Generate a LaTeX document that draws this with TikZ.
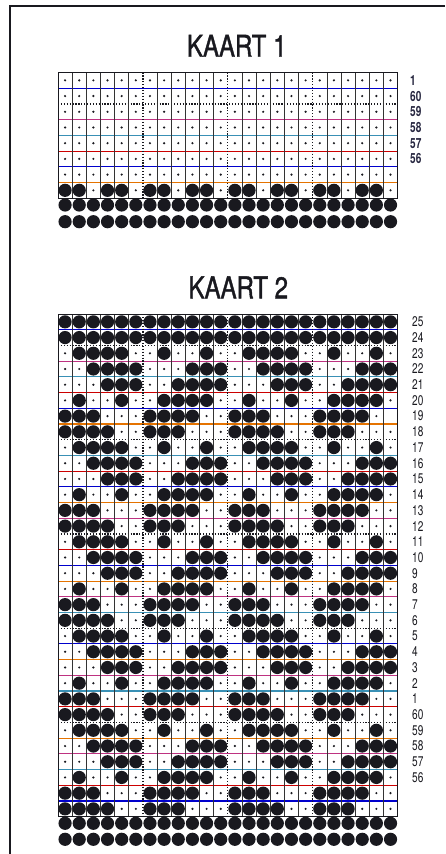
\documentclass[tikz,border=0pt]{standalone}
\usepackage{fontspec}
\setmainfont{TeX Gyre Heros}
\newfontfamily\titlef[FakeStretch=0.8, FakeBold=1.3]{TeX Gyre Heros}
\newfontfamily\labf[FakeStretch=0.72]{TeX Gyre Heros}
\definecolor{ink}{rgb}{0.1,0.1,0.12}
\definecolor{labink}{rgb}{0.15,0.15,0.25}
\newcommand\hcol[1]{\ifcase#1 red!80!black\or blue!80!black\or orange!90!black\or magenta!75!black\or cyan!70!black\fi}
\tikzset{
  vline/.style={black!80, line width=0.6pt},
  dotline/.style={ink, line width=1.3pt, dash pattern=on 1.2pt off 1.7pt},
  border/.style={ink, line width=0.9pt},
  hole/.style={fill=ink},
  pin/.style={fill=ink},
  hline/.style={line width=1.1pt},
  titlelab/.style={font=\titlef\fontsize{30}{30}\selectfont, text=ink, inner sep=0pt, anchor=base},
  rowlab/.style={font=\labf\fontsize{14}{14}\selectfont, inner sep=0pt, anchor=west}
}
\def\gx{58}\def\cw{14.15}\def\rh{15.71}
\def\ta{72.5}\def\tb{314}
\begin{document}
\begin{tikzpicture}[x=1pt,y=-1pt]
\useasboundingbox (0,0) rectangle (445,854);
\fill[white] (0,0) rectangle (445,854);
% frame
\draw[ink, line width=2pt] (10,854) -- (10,6) -- (445,6);

% ---------- KAART 1 ----------
\node[titlelab] (t1) at (236.7,56.7) {KAART 1};
% horizontal lines
\foreach \k in {1,...,7}{
  \pgfmathtruncatemacro\ci{mod(\k,5)}
  \edef\hc{\hcol{\ci}}
  \ifnum\k=2
    \draw[dotline] (\gx,{\ta+\k*\rh}) -- ++({24*\cw},0);
  \else
    \draw[hline, color=\hc] (\gx,{\ta+\k*\rh}) -- ++({24*\cw},0);
  \fi
}
% vertical lines
\foreach \k in {1,...,23}{
  \pgfmathtruncatemacro\m{mod(\k,6)}
  \ifnum\m=0
    \draw[dotline] ({\gx+\k*\cw},\ta) -- ++(0,{8*\rh});
  \else
    \draw[vline] ({\gx+\k*\cw},\ta) -- ++(0,{8*\rh});
  \fi
}
\draw[border] (\gx,\ta) rectangle ++({24*\cw},{8*\rh});
% cells
\foreach \r in {1,...,7}{
  \foreach \c in {1,...,24}{
    \fill[pin] ({\gx+(\c-0.5)*\cw},{\ta+(\r-0.5)*\rh}) circle (1.2pt);
  }
}
\foreach \c in {1,...,24}{
  \pgfmathtruncatemacro\m{mod(\c,3)}
  \ifnum\m=0
    \fill[pin] ({\gx+(\c-0.5)*\cw},{\ta+7.5*\rh}) circle (1.2pt);
  \else
    \fill[hole] ({\gx+(\c-0.5)*\cw},{\ta+7.5*\rh}) circle (6.6pt);
  \fi
}
% sprocket rows
\foreach \c in {1,...,24}{
  \fill[hole] ({\gx+(\c-0.5)*\cw},205) circle (6.6pt);
  \fill[hole] ({\gx+(\c-0.5)*\cw},221.7) circle (6.6pt);
}
% labels
\foreach \t [count=\i] in {1,60,59,58,57,56}{
  \node[rowlab, text=labink, font=\labf\bfseries\fontsize{14}{14}\selectfont] (l1-\i) at (410,{\ta+(\i-0.5)*\rh}) {\t};
}

% ---------- KAART 2 ----------
\node[titlelab] (t2) at (238.3,298.3) {KAART 2};
\foreach \k in {1,...,31}{
  \pgfmathtruncatemacro\ci{mod(\k,5)}
  \pgfmathtruncatemacro\m{mod(\k-2,6)}
  \edef\hc{\hcol{\ci}}
  \ifnum\m=0
    \draw[dotline] (\gx,{\tb+\k*\rh}) -- ++({24*\cw},0);
  \else
    \draw[hline, color=\hc] (\gx,{\tb+\k*\rh}) -- ++({24*\cw},0);
  \fi
}
\foreach \k in {1,...,23}{
  \pgfmathtruncatemacro\m{mod(\k,6)}
  \ifnum\m=0
    \draw[dotline] ({\gx+\k*\cw},\tb) -- ++(0,{32*\rh});
  \else
    \draw[vline] ({\gx+\k*\cw},\tb) -- ++(0,{32*\rh});
  \fi
}
\draw[border] (\gx,\tb) rectangle ++({24*\cw},{32*\rh});
% first two rows fully punched
\foreach \r in {1,2}{
  \foreach \c in {1,...,24}{
    \fill[hole] ({\gx+(\c-0.5)*\cw},{\tb+(\r-0.5)*\rh}) circle (6.6pt);
  }
}
% repeating pattern
\foreach \blk in {0,...,4}{
  \foreach \row [count=\i] in {{0,1,1,1,1,0,0,1,0,0,1,0},{0,0,1,1,1,1,0,0,0,1,1,1},{0,0,0,1,1,1,0,0,1,1,1,1},{0,1,0,0,1,0,0,1,1,1,1,0},{1,1,1,0,0,0,1,1,1,1,0,0},{1,1,1,1,0,0,1,1,1,0,0,0}}{
    \pgfmathsetmacro\yy{\tb+(1.5+6*\blk+\i)*\rh}
    \foreach \h in {0,1}{
      \foreach \v [count=\c] in \row {
        \pgfmathsetmacro\xx{\gx+(\c+12*\h-0.5)*\cw}
        \pgfmathtruncatemacro\sk{and(and(\blk==0,\i==5),and(\h==1,\c==12))}
        \ifnum\sk=0
          \ifnum\v=1
            \fill[hole] (\xx,\yy) circle (6.6pt);
          \else
            \fill[pin] (\xx,\yy) circle (1.2pt);
          \fi
        \fi
      }
    }
  }
}
% sprocket rows
\foreach \c in {1,...,24}{
  \fill[hole] ({\gx+(\c-0.5)*\cw},823.3) circle (6.6pt);
  \fill[hole] ({\gx+(\c-0.5)*\cw},839.3) circle (6.6pt);
}
% labels
\foreach \t [count=\i] in {25,24,23,22,21,20,19,18,17,16,15,14,13,12,11,10,9,8,7,6,5,4,3,2,1,60,59,58,57,56}{
  \node[rowlab, text=ink] (l2-\i) at (412,{\tb+(\i-0.5)*\rh}) {\t};
}
\end{tikzpicture}
\end{document}
